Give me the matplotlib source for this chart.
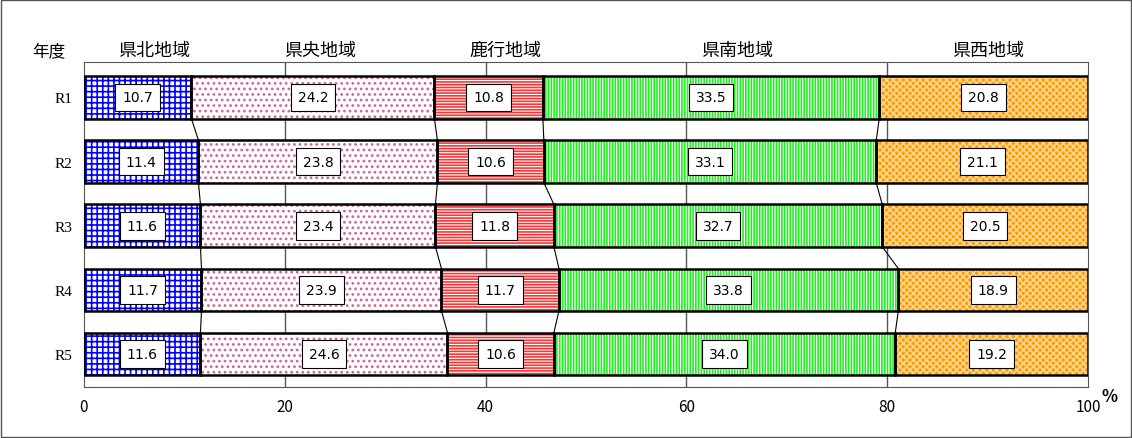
import matplotlib
matplotlib.use("Agg")
import matplotlib.pyplot as plt
import numpy as np

plt.rcParams['font.family'] = ['Noto Sans CJK JP', 'DejaVu Sans']
plt.rcParams['hatch.linewidth'] = 1.2

years = ["R1", "R2", "R3", "R4", "R5"]
regions = ["県北地域", "県央地域", "鹿行地域", "県南地域", "県西地域"]
north = [10.7, 11.4, 11.6, 11.7, 11.6]
central = [24.2, 23.8, 23.4, 23.9, 24.6]
rokko = [10.8, 10.6, 11.8, 11.7, 10.6]
south = [33.5, 33.1, 32.7, 33.8, 34.0]
west = [20.8, 21.1, 20.5, 18.9, 19.2]

series = [north, central, rokko, south, west]
faces = ["white", "white", "white", "white", "#ff9900"]
hcolors = ["#0000ff", "#cc6699", "#ff3333", "#22ee22", "#ffd890"]
hatches = ["+++", "...", "------", "||||||", "xxxxx"]

fig = plt.figure(figsize=(11.32, 4.39), dpi=100)
fig.patches.append(plt.Rectangle((0.001, 0.002), 0.998, 0.996, transform=fig.transFigure,
                                 fill=False, edgecolor="#555555", lw=1))
ax = fig.add_axes([0.0742, 0.116, 0.887, 0.74])

y = np.arange(len(years))
h = 0.66
data = np.array(series)
left = np.zeros(len(years))
for i, vals in enumerate(data):
    ax.barh(y, vals, left=left, height=h, color=faces[i], edgecolor=hcolors[i],
            hatch=hatches[i], lw=0, zorder=2)
    ax.barh(y, vals, left=left, height=h, fill=False, edgecolor="black", lw=1.8, zorder=3)
    for yy, l, v in zip(y, left, vals):
        ax.text(l + v / 2, yy, f"{v:.1f}", ha="center", va="center", fontsize=10,
                family="DejaVu Sans", zorder=4,
                bbox=dict(boxstyle="square,pad=0.5", fc="white", ec="black", lw=0.8))
    left = left + vals

# connector lines between bars
cum = np.cumsum(data, axis=0)
for k in range(len(series) - 1):
    for j in range(len(years) - 1):
        ax.plot([cum[k, j], cum[k, j + 1]], [y[j] + h / 2, y[j + 1] - h / 2],
                color="black", lw=0.8, zorder=1)

for gx in [20, 40, 60, 80]:
    ax.axvline(gx, color="#555555", lw=1, zorder=0)

ax.set_xlim(0, 100)
ax.set_ylim(4.52, -0.55)
ax.set_yticks(y)
ax.set_yticklabels(years, family="Liberation Serif", fontsize=11)
ax.set_xticks([0, 20, 40, 60, 80, 100])
ax.set_xticklabels(["0", "20", "40", "60", "80", "100"], fontsize=11)
ax.tick_params(length=0, pad=8)
for s in ax.spines.values():
    s.set_color("#555555")
ax.text(101.3, 4.52, "%", transform=ax.transData, fontsize=12, fontweight="bold",
        va="top", ha="left", clip_on=False)

# header labels
mids = [7, 23.5, 42, 65, 90]
for name, m in zip(regions, mids):
    ax.text(m, -0.6, name, ha="center", va="bottom", fontsize=13, clip_on=False)
ax.text(-0.035, -0.6, "年度", transform=ax.get_yaxis_transform(), ha="center",
        va="bottom", fontsize=12, clip_on=False)

fig.savefig("out.png", dpi=100)
